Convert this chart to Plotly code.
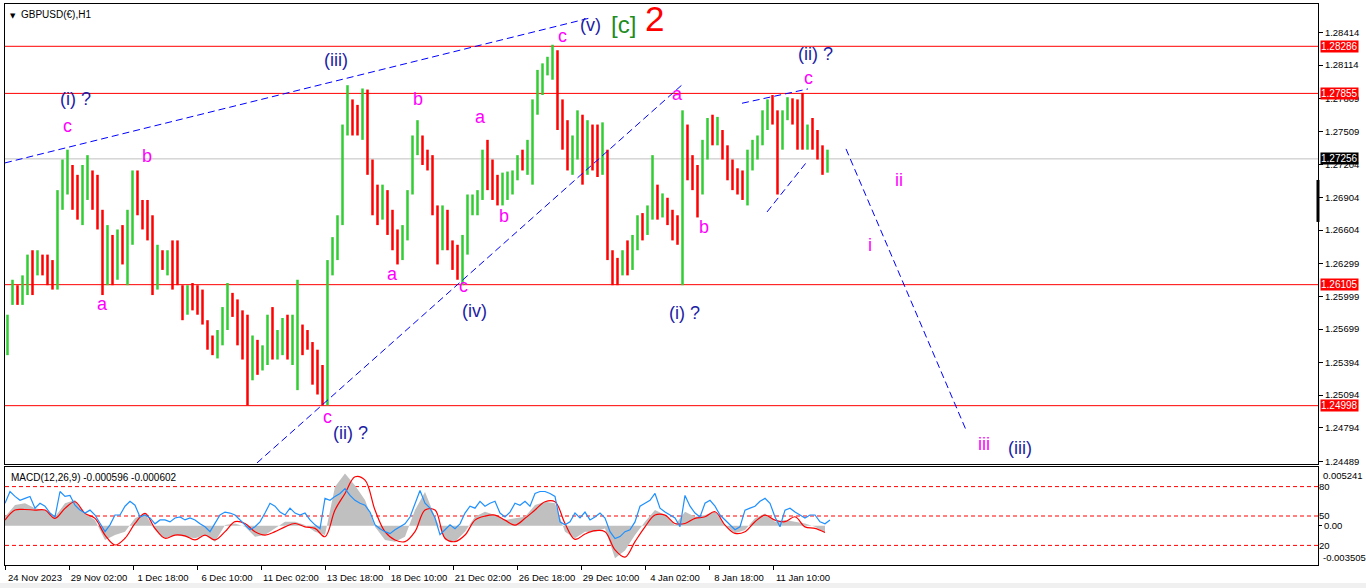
import plotly.graph_objects as go

# ---------------- price data (each candle = 5 hourly bars) -------------
opens = [1.2546, 1.2597, 1.2606, 1.2597, 1.2606, 1.2629, 1.2624, 1.2629, 1.2633, 1.2619,
         1.2610, 1.2693, 1.2711, 1.2715, 1.2693, 1.2688, 1.2702, 1.2706, 1.2702, 1.2674,
         1.2629, 1.2638, 1.2624, 1.2642, 1.2638, 1.2656, 1.2702, 1.2683, 1.2679, 1.2670,
         1.2619, 1.2638, 1.2633, 1.2638, 1.2633, 1.2610, 1.2587, 1.2601, 1.2597, 1.2597,
         1.2578, 1.2555, 1.2555, 1.2560, 1.2583, 1.2597, 1.2592, 1.2569, 1.2551, 1.2532,
         1.2555, 1.2542, 1.2551, 1.2574, 1.2555, 1.2560, 1.2569, 1.2555, 1.2560, 1.2564,
         1.2560, 1.2555, 1.2532, 1.2523, 1.2510, 1.2619, 1.2642, 1.2670, 1.2747, 1.2770,
         1.2766, 1.2761, 1.2780, 1.2725, 1.2688, 1.2679, 1.2688, 1.2674, 1.2651, 1.2642,
         1.2656, 1.2693, 1.2738, 1.2747, 1.2729, 1.2725, 1.2683, 1.2651, 1.2670, 1.2651,
         1.2638, 1.2624, 1.2642, 1.2683, 1.2688, 1.2693, 1.2725, 1.2711, 1.2702, 1.2693,
         1.2702, 1.2706, 1.2711, 1.2725, 1.2725, 1.2734, 1.2770, 1.2798, 1.2802, 1.2812,
         1.2816, 1.2770, 1.2747, 1.2725, 1.2734, 1.2757, 1.2720, 1.2743, 1.2729, 1.2720,
         1.2734, 1.2647, 1.2624, 1.2619, 1.2633, 1.2629, 1.2647, 1.2665, 1.2665, 1.2674,
         1.2697, 1.2683, 1.2688, 1.2674, 1.2656, 1.2651, 1.2743, 1.2720, 1.2711, 1.2697,
         1.2734, 1.2757, 1.2747, 1.2752, 1.2734, 1.2715, 1.2706, 1.2702, 1.2697, 1.2725,
         1.2734, 1.2743, 1.2761, 1.2770, 1.2766, 1.2743, 1.2761, 1.2775, 1.2770, 1.2752,
         1.2743, 1.2747, 1.2743, 1.2734, 1.2720]
highs = [1.2583, 1.2615, 1.2610, 1.2619, 1.2638, 1.2642, 1.2642, 1.2638, 1.2638, 1.2633,
         1.2697, 1.2725, 1.2734, 1.2720, 1.2711, 1.2720, 1.2729, 1.2715, 1.2711, 1.2679,
         1.2665, 1.2656, 1.2661, 1.2665, 1.2679, 1.2715, 1.2715, 1.2688, 1.2688, 1.2674,
         1.2647, 1.2642, 1.2642, 1.2651, 1.2651, 1.2610, 1.2610, 1.2612, 1.2610, 1.2606,
         1.2578, 1.2564, 1.2569, 1.2590, 1.2612, 1.2603, 1.2597, 1.2587, 1.2583, 1.2564,
         1.2560, 1.2555, 1.2583, 1.2590, 1.2569, 1.2580, 1.2583, 1.2583, 1.2615, 1.2574,
         1.2569, 1.2558, 1.2551, 1.2537, 1.2633, 1.2654, 1.2674, 1.2757, 1.2793, 1.2780,
         1.2775, 1.2790, 1.2789, 1.2725, 1.2702, 1.2702, 1.2697, 1.2679, 1.2661, 1.2665,
         1.2697, 1.2747, 1.2761, 1.2747, 1.2734, 1.2729, 1.2683, 1.2683, 1.2679, 1.2651,
         1.2647, 1.2656, 1.2693, 1.2693, 1.2697, 1.2734, 1.2743, 1.2725, 1.2711, 1.2713,
         1.2714, 1.2715, 1.2729, 1.2734, 1.2743, 1.2780, 1.2807, 1.2813, 1.2819, 1.2830,
         1.2825, 1.2780, 1.2761, 1.2747, 1.2770, 1.2766, 1.2761, 1.2757, 1.2757, 1.2759,
         1.2734, 1.2642, 1.2635, 1.2642, 1.2651, 1.2656, 1.2674, 1.2676, 1.2683, 1.2729,
         1.2702, 1.2694, 1.2690, 1.2679, 1.2674, 1.2770, 1.2757, 1.2729, 1.2720, 1.2743,
         1.2763, 1.2766, 1.2764, 1.2752, 1.2738, 1.2725, 1.2717, 1.2715, 1.2734, 1.2743,
         1.2747, 1.2770, 1.2780, 1.2784, 1.2770, 1.2770, 1.2782, 1.2781, 1.2780, 1.2786,
         1.2757, 1.2763, 1.2752, 1.2738, 1.2734]
lows = [1.2546, 1.2592, 1.2592, 1.2592, 1.2601, 1.2601, 1.2619, 1.2619, 1.2610, 1.2606,
        1.2606, 1.2679, 1.2693, 1.2679, 1.2670, 1.2665, 1.2688, 1.2679, 1.2661, 1.2601,
        1.2610, 1.2610, 1.2615, 1.2629, 1.2610, 1.2647, 1.2674, 1.2661, 1.2651, 1.2601,
        1.2606, 1.2624, 1.2619, 1.2606, 1.2610, 1.2578, 1.2583, 1.2587, 1.2583, 1.2574,
        1.2551, 1.2546, 1.2543, 1.2555, 1.2569, 1.2581, 1.2555, 1.2542, 1.2500, 1.2523,
        1.2528, 1.2532, 1.2537, 1.2542, 1.2542, 1.2546, 1.2542, 1.2537, 1.2514, 1.2546,
        1.2551, 1.2519, 1.2510, 1.2500, 1.2500, 1.2619, 1.2633, 1.2665, 1.2747, 1.2747,
        1.2747, 1.2743, 1.2711, 1.2674, 1.2665, 1.2670, 1.2656, 1.2642, 1.2629, 1.2633,
        1.2651, 1.2693, 1.2729, 1.2720, 1.2715, 1.2674, 1.2629, 1.2642, 1.2642, 1.2624,
        1.2615, 1.2610, 1.2638, 1.2674, 1.2674, 1.2688, 1.2697, 1.2688, 1.2683, 1.2683,
        1.2688, 1.2693, 1.2706, 1.2715, 1.2711, 1.2702, 1.2766, 1.2784, 1.2802, 1.2798,
        1.2752, 1.2734, 1.2715, 1.2711, 1.2725, 1.2702, 1.2711, 1.2715, 1.2709, 1.2711,
        1.2633, 1.2610, 1.2610, 1.2619, 1.2619, 1.2624, 1.2642, 1.2651, 1.2656, 1.2670,
        1.2670, 1.2672, 1.2665, 1.2651, 1.2647, 1.2610, 1.2706, 1.2697, 1.2672, 1.2693,
        1.2725, 1.2738, 1.2738, 1.2725, 1.2706, 1.2697, 1.2693, 1.2688, 1.2683, 1.2715,
        1.2725, 1.2738, 1.2752, 1.2757, 1.2693, 1.2734, 1.2761, 1.2757, 1.2734, 1.2734,
        1.2734, 1.2734, 1.2725, 1.2711, 1.2713]
closes = [1.2578, 1.2606, 1.2597, 1.2610, 1.2629, 1.2624, 1.2633, 1.2628, 1.2619, 1.2615,
          1.2693, 1.2711, 1.2720, 1.2693, 1.2688, 1.2702, 1.2706, 1.2702, 1.2688, 1.2629,
          1.2638, 1.2624, 1.2642, 1.2638, 1.2665, 1.2702, 1.2688, 1.2674, 1.2670, 1.2619,
          1.2638, 1.2633, 1.2638, 1.2633, 1.2615, 1.2587, 1.2601, 1.2597, 1.2592, 1.2583,
          1.2555, 1.2554, 1.2560, 1.2583, 1.2597, 1.2592, 1.2569, 1.2551, 1.2532, 1.2555,
          1.2542, 1.2551, 1.2574, 1.2555, 1.2560, 1.2569, 1.2555, 1.2560, 1.2564, 1.2560,
          1.2555, 1.2532, 1.2523, 1.2510, 1.2619, 1.2642, 1.2665, 1.2747, 1.2770, 1.2766,
          1.2761, 1.2780, 1.2725, 1.2688, 1.2679, 1.2688, 1.2674, 1.2651, 1.2642, 1.2656,
          1.2693, 1.2738, 1.2747, 1.2729, 1.2725, 1.2683, 1.2651, 1.2670, 1.2651, 1.2638,
          1.2624, 1.2642, 1.2683, 1.2688, 1.2693, 1.2725, 1.2711, 1.2702, 1.2693, 1.2702,
          1.2706, 1.2711, 1.2725, 1.2724, 1.2734, 1.2770, 1.2798, 1.2802, 1.2812, 1.2816,
          1.2770, 1.2747, 1.2725, 1.2734, 1.2757, 1.2720, 1.2743, 1.2729, 1.2720, 1.2734,
          1.2647, 1.2624, 1.2619, 1.2633, 1.2629, 1.2647, 1.2665, 1.2664, 1.2674, 1.2697,
          1.2683, 1.2688, 1.2674, 1.2656, 1.2651, 1.2743, 1.2720, 1.2711, 1.2697, 1.2734,
          1.2757, 1.2747, 1.2752, 1.2734, 1.2715, 1.2706, 1.2702, 1.2697, 1.2725, 1.2734,
          1.2743, 1.2761, 1.2770, 1.2766, 1.2743, 1.2761, 1.2775, 1.2770, 1.2752, 1.2743,
          1.2747, 1.2743, 1.2734, 1.2720, 1.27256]

# ---------------- MACD panel data ----------------
macd_main = [0.0008, 0.00184, 0.0020, 0.00155, 0.0014, 0.0008, 0.0020, 0.0023, 0.0011, 0.0005,
             -0.00127, -0.00083, -0.00053, 0.00066, 0.0011, -0.00038, -0.00112, -0.00083, -0.00098, -0.00112,
             -0.00083, -0.00142, 0.00006, 0.0002, -0.0001, -0.00098, -0.00083, -0.00024, 0.00036, 0.00036,
             0.00006, -0.00053, -0.00083, 0.00348, 0.00467, 0.0036, 0.0023, -0.0001, -0.00127, -0.00142,
             -0.00098, 0.0014, 0.0030, 0.0008, -0.00127, -0.00142, -0.00053, 0.0008, 0.00125, 0.00095,
             0.0005, 0.00066, 0.0008, 0.00184, 0.00214, 0.0020, -0.00053, -0.00112, -0.00053, -0.00053,
             -0.00024, -0.0029, -0.0022, -0.00083, 0.00036, 0.0014, 0.00095, 0.00006, 0.00125, 0.0008,
             0.00095, 0.00125, 0.00006, -0.00068, -0.00038, 0.00066, 0.0011, 0.00036, 0.0005, 0.00036,
             0.0002, -0.0001, -0.000596]
macd_signal = [0.0005, 0.0014, 0.00145, 0.0014, 0.0014, 0.00066, 0.00155, 0.00214, 0.0011, 0.00066,
               -0.00083, -0.00172, -0.00112, 0.0002, 0.0011, -0.00024, -0.00112, -0.00083, -0.0009, -0.00127,
               -0.00083, -0.00127, -0.00053, 0.00036, 0.0002, -0.00053, -0.00083, -0.00053, -0.0001, 0.0002,
               -0.0001, -0.00024, -0.00098, 0.0014, 0.00288, 0.00437, 0.00407, 0.0014, -0.00053, -0.00127,
               -0.00142, -0.00053, 0.0014, 0.0014, -0.00112, -0.00142, -0.00083, 0.0005, 0.00086, 0.00095,
               0.0005, 0.00006, 0.00066, 0.0014, 0.00214, 0.00214, 0.0002, -0.00122, -0.00074, -0.00044,
               -0.00053, -0.00216, -0.0028, -0.00142, -0.0001, 0.00095, 0.00095, 0.0002, 0.0002, 0.00066,
               0.0008, 0.00125, 0.00006, -0.00068, -0.00053, 0.00036, 0.00095, 0.0005, 0.00036, 0.0008,
               -0.0001, -0.00024, -0.000602]
osc_blue = [63, 75, 70, 66, 68, 70, 58, 63, 60, 53,
            49, 75, 70, 71, 61, 56, 53, 56, 51, 42,
            34, 41, 51, 51, 60, 65, 61, 49, 51, 48,
            42, 46, 46, 44, 48, 49, 46, 48, 46, 42,
            39, 34, 42, 51, 54, 53, 51, 46, 41, 36,
            39, 44, 53, 63, 60, 54, 51, 58, 53, 51,
            53, 46, 41, 37, 68, 66, 70, 73, 78, 71,
            66, 63, 61, 54, 41, 37, 34, 32, 36, 39,
            42, 49, 63, 76, 63, 58, 48, 31, 36, 41,
            37, 42, 53, 60, 58, 65, 60, 63, 65, 53,
            49, 54, 63, 61, 65, 60, 73, 75, 75, 73,
            70, 44, 41, 44, 53, 48, 54, 46, 49, 53,
            48, 34, 27, 29, 34, 36, 44, 60, 63, 66,
            73, 58, 54, 51, 48, 39, 71, 60, 53, 49,
            63, 66, 60, 51, 46, 41, 36, 39, 56, 58,
            60, 65, 68, 63, 49, 39, 56, 58, 54, 51,
            48, 51, 51, 44, 42, 46]
osc_levels = [80, 50, 20]

# ---------------- axes / labels ----------------
date_labels = ["24 Nov 2023", "29 Nov 02:00", "1 Dec 18:00", "6 Dec 10:00", "11 Dec 02:00",
               "13 Dec 18:00", "18 Dec 10:00", "21 Dec 02:00", "26 Dec 18:00", "29 Dec 10:00",
               "4 Jan 02:00", "8 Jan 18:00", "11 Jan 10:00"]
BARS_PER_LABEL = 64
price_ticks = [1.28414, 1.28114, 1.27809, 1.27509, 1.27204, 1.26904, 1.26604, 1.26299,
               1.25999, 1.25699, 1.25394, 1.25094, 1.24794, 1.24489]
red_levels = [1.28286, 1.27855, 1.26105, 1.24998]
bid_price = 1.27256
PRICE_RANGE = [1.24464, 1.28673]
MACD_RANGE = [-0.003505, 0.005241]
X_RANGE = [0, 1313]
CANDLE_BARS = 5
MACD_BARS = 10
OSC_BARS = 5

# trendlines: (x0, y0, x1, y1) in bar index / price
trendlines = [(0, 1.27219, 585, 1.28545),
              (252, 1.24474, 678, 1.27941),
              (737, 1.27765, 803, 1.27896),
              (762, 1.26770, 801, 1.27219),
              (841, 1.27347, 961, 1.24776)]

blue_labels = [("(i) ?", 70, 1.2780), ("(iii)", 331, 1.2816), ("(v)", 585, 1.2848),
               ("(ii) ?", 810, 1.2822), ("(iv)", 469, 1.2586), ("(i) ?", 679, 1.2585),
               ("(ii) ?", 345, 1.2475), ("(iii)", 1015, 1.2461)]
magenta_labels = [("c", 62, 1.2756), ("b", 142, 1.2728), ("a", 97, 1.2593), ("c", 322, 1.2489),
                  ("a", 387, 1.2620), ("b", 413, 1.2780), ("a", 475, 1.2764), ("b", 499, 1.2673),
                  ("c", 458, 1.2609), ("c", 557, 1.2838), ("a", 672, 1.2785), ("b", 699, 1.2663),
                  ("c", 803, 1.2800), ("ii", 894, 1.2706), ("i", 865, 1.2647), ("iii", 979, 1.2465)]

GREEN = "#32cd32"
RED = "#ff0000"
NAVY = "#1c1ca6"
MAGENTA = "#ff00ff"
FONT = "Liberation Sans"

fig = go.Figure()

xc = [CANDLE_BARS * i + CANDLE_BARS / 2 for i in range(len(opens))]
fig.add_trace(go.Ohlc(x=xc, open=opens, high=highs, low=lows, close=closes,
                      increasing=dict(line=dict(color=GREEN, width=2.5)),
                      decreasing=dict(line=dict(color=RED, width=2.5)),
                      tickwidth=0, xaxis="x", yaxis="y", showlegend=False, hoverinfo="skip"))

xm = [MACD_BARS * i for i in range(len(macd_main))]
fig.add_trace(go.Scatter(x=xm, y=macd_main, mode="lines", line=dict(width=0, color="#c0c0c0"),
                         fill="tozeroy", fillcolor="#c0c0c0", xaxis="x2", yaxis="y3",
                         showlegend=False, hoverinfo="skip"))
fig.add_trace(go.Scatter(x=xm, y=macd_signal, mode="lines", line=dict(width=1.2, color=RED, shape="spline"),
                         xaxis="x2", yaxis="y3", showlegend=False, hoverinfo="skip"))
xo = [OSC_BARS * i for i in range(len(osc_blue))]
fig.add_trace(go.Scatter(x=xo, y=osc_blue, mode="lines", line=dict(width=1.2, color="#1e90ff"),
                         xaxis="x2", yaxis="y4", showlegend=False, hoverinfo="skip"))

shapes = []
for lvl in red_levels:
    shapes.append(dict(type="line", xref="x domain", yref="y", x0=0, x1=1, y0=lvl, y1=lvl,
                       line=dict(color=RED, width=1), layer="below"))
shapes.append(dict(type="line", xref="x domain", yref="y", x0=0, x1=1, y0=bid_price, y1=bid_price,
                   line=dict(color="#c0c0c0", width=1), layer="below"))
for (x0, y0, x1, y1) in trendlines:
    shapes.append(dict(type="line", xref="x", yref="y", x0=x0, y0=y0, x1=x1, y1=y1,
                       line=dict(color="#0000ff", width=1, dash="7px,4px")))
for lv in osc_levels:
    shapes.append(dict(type="line", xref="x2 domain", yref="y4", x0=0, x1=1, y0=lv, y1=lv,
                       line=dict(color=RED, width=1, dash="4px,3px"), layer="below"))
# black marker on the right frame
shapes.append(dict(type="line", xref="paper", yref="y", x0=1, x1=1, y0=1.27063, y1=1.26679,
                   line=dict(color="black", width=3)))
# bottom window strip
shapes.append(dict(type="rect", xref="paper", yref="paper", x0=-0.01, x1=1.04, y0=-0.045, y1=-0.032,
                   fillcolor="#f0f0f0", line=dict(width=0)))

ann = []
for t, x, y in blue_labels:
    ann.append(dict(text=t, x=x, y=y, xref="x", yref="y", showarrow=False,
                    font=dict(family=FONT, size=18, color=NAVY)))
for t, x, y in magenta_labels:
    ann.append(dict(text=t, x=x, y=y, xref="x", yref="y", showarrow=False,
                    font=dict(family=FONT, size=18, color=MAGENTA)))
ann.append(dict(text="[c]", x=618, y=1.2849, xref="x", yref="y", showarrow=False,
                font=dict(family=FONT, size=24, color="#1e8c1e")))
ann.append(dict(text="2", x=649, y=1.2854, xref="x", yref="y", showarrow=False,
                font=dict(family=FONT, size=35, color=RED)))
for lvl in red_levels:
    ann.append(dict(text=f"{lvl:.5f}", x=1, xref="paper", y=lvl, yref="y", xanchor="left",
                    xshift=2, showarrow=False, bgcolor=RED, borderpad=0,
                    font=dict(family=FONT, size=10, color="white")))
ann.append(dict(text=f"{bid_price:.5f}", x=1, xref="paper", y=bid_price, yref="y", xanchor="left",
                xshift=2, showarrow=False, bgcolor="black", borderpad=0,
                font=dict(family=FONT, size=10, color="white")))
ann.append(dict(text="▼", x=0, xref="paper", y=1, yref="paper", xanchor="left", yanchor="top",
                xshift=3, yshift=-6, showarrow=False, font=dict(family="DejaVu Sans", size=7, color="black")))
ann.append(dict(text="GBPUSD(€),H1", x=0, xref="paper", y=1, yref="paper", xanchor="left", yanchor="top",
                xshift=14, yshift=-3, showarrow=False, font=dict(family=FONT, size=10, color="black")))
macd_top = 98 / 561
ann.append(dict(text=f"MACD(12,26,9) {macd_main[-1]:.6f} {macd_signal[-1]:.6f}", x=0, xref="paper",
                y=macd_top, yref="paper", xanchor="left", yanchor="top", xshift=4, yshift=-3,
                showarrow=False, font=dict(family=FONT, size=10, color="black")))
ann.append(dict(text=f"{MACD_RANGE[1]:.6f}", x=1, xref="paper", y=macd_top, yref="paper",
                xanchor="left", yanchor="top", xshift=3, yshift=-1, showarrow=False,
                font=dict(family=FONT, size=9.5, color="black")))
ann.append(dict(text=f"{MACD_RANGE[0]:.6f}", x=1, xref="paper", y=0, yref="paper",
                xanchor="left", yanchor="bottom", xshift=3, yshift=0, showarrow=False,
                font=dict(family=FONT, size=9.5, color="black")))

tickfont = dict(family=FONT, size=9.5, color="black")
common = dict(showgrid=False, zeroline=False, showline=True, mirror=True, linecolor="black",
              linewidth=1)

fig.update_layout(
    width=1366, height=588, margin=dict(l=5, r=48, t=4, b=23),
    paper_bgcolor="white", plot_bgcolor="white", showlegend=False,
    xaxis=dict(domain=[0, 1], range=X_RANGE, anchor="y", showticklabels=False,
               rangeslider=dict(visible=False), ticks="", **common),
    yaxis=dict(domain=[0.18, 1], range=PRICE_RANGE, anchor="x", side="right",
               tickvals=price_ticks, ticktext=[f"{v:.5f}" for v in price_ticks],
               ticks="outside", ticklen=4, tickcolor="black", tickfont=tickfont, **common),
    xaxis2=dict(domain=[0, 1], range=X_RANGE, anchor="y3",
                tickvals=[BARS_PER_LABEL * k for k in range(len(date_labels))], ticktext=date_labels,
                ticks="outside", ticklen=4, tickcolor="black", tickfont=tickfont,
                ticklabelshift=30, ticklabelstandoff=0, **common),
    yaxis3=dict(domain=[0, macd_top], range=MACD_RANGE, anchor="x2", side="right",
                tickvals=[0], ticktext=["0.00"], ticks="outside", ticklen=3, tickcolor="black",
                tickfont=tickfont, **common),
    yaxis4=dict(range=[0, 100], overlaying="y3", anchor="x2", side="right",
                tickvals=osc_levels, ticktext=[str(v) for v in osc_levels], ticks="",
                tickfont=tickfont, showgrid=False, zeroline=False, showline=False),
    shapes=shapes, annotations=ann,
)

fig.write_html("out.html", config={"displayModeBar": False},
               post_script="document.body.style.margin='0';document.body.style.overflow='hidden';")
